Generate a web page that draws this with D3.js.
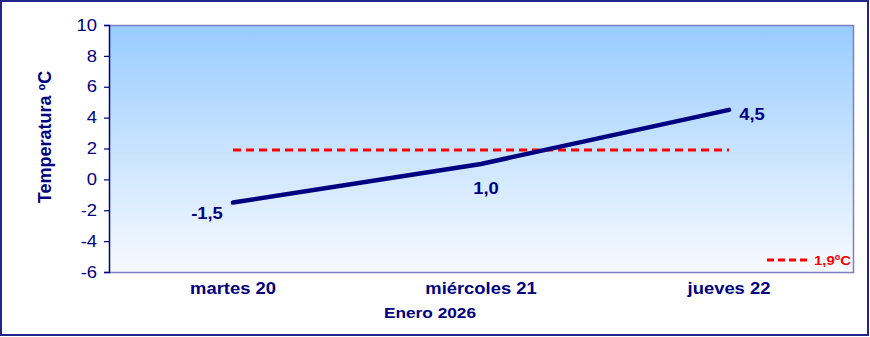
<!DOCTYPE html>
<html>
<head>
<meta charset="utf-8">
<script src="https://cdn.jsdelivr.net/npm/d3@7"></script>
<style>
  html, body { margin: 0; padding: 0; background: #fff; }
  svg { display: block; font-family: Arial, "Liberation Sans", sans-serif; }
</style>
</head>
<body>
<svg id="chart" width="870" height="337"></svg>
<script>
// Daily temperature readings
const days = ["martes 20", "miércoles 21", "jueves 22"];
const temps = [-1.5, 1.0, 4.5];
const labelText = ["-1,5", "1,0", "4,5"];
const meanTemp = 1.9;
const meanLabel = "1,9ºC";
const yTicks = [-6, -4, -2, 0, 2, 4, 6, 8, 10];
const xTitle = "Enero 2026";
const yTitle = "Temperatura ºC";

const svg = d3.select("#chart");
const W = 870, H = 337;
const plot = { left: 109, right: 853, top: 25, bottom: 272 };
const navy = "#000080";
const SX = 1.15; // wide text

// places a text at (px, py) with a slight horizontal widening
function wideText(sel, px, py) {
  return sel.attr("x", 0).attr("y", 0).attr("transform", `translate(${px},${py}) scale(${SX},1)`);
}

// outer frame
svg.append("rect").attr("x", 1).attr("y", 1).attr("width", W - 3).attr("height", H - 3)
  .attr("fill", "#fff").attr("stroke", "#24248f").attr("stroke-width", 2);

const x = d3.scaleBand().domain(days).range([plot.left, plot.right]);
const y = d3.scaleLinear().domain([-6, 10]).range([plot.bottom, plot.top]);

// plot background gradient
const defs = svg.append("defs");
const grad = defs.append("linearGradient").attr("id", "bg").attr("x1", 0).attr("y1", 0).attr("x2", 0).attr("y2", 1);
grad.append("stop").attr("offset", "0%").attr("stop-color", "#99ccff");
grad.append("stop").attr("offset", "100%").attr("stop-color", "#f7faff");

svg.append("rect")
  .attr("x", plot.left).attr("y", plot.top)
  .attr("width", plot.right - plot.left).attr("height", plot.bottom - plot.top)
  .attr("fill", "url(#bg)");

// plot border (top, right, bottom)
svg.append("path")
  .attr("d", `M${plot.left},${plot.top + 0.5}H${plot.right + 0.5}V${plot.bottom + 0.5}H${plot.left}`)
  .attr("fill", "none").attr("stroke", "#7f7fbf").attr("stroke-width", 1.5);

// y axis (plain hyphen for negatives)
const yAxis = svg.append("g").attr("transform", `translate(${plot.left},0)`)
  .call(d3.axisLeft(y).tickValues(yTicks).tickSize(5).tickFormat(d => String(d)));
yAxis.select(".domain").attr("stroke", navy).attr("stroke-width", 1.5);
yAxis.selectAll(".tick line").attr("stroke", navy).attr("stroke-width", 1.2);
yAxis.selectAll(".tick text").attr("fill", navy).attr("font-size", 16)
  .attr("font-family", "Arial, 'Liberation Sans', sans-serif")
  .attr("x", 0).attr("transform", `translate(-12,0) scale(${SX},1)`);

// x axis labels
const xAxis = svg.append("g").attr("transform", `translate(0,${plot.bottom})`)
  .call(d3.axisBottom(x).tickSize(0).tickPadding(11));
xAxis.select(".domain").remove();
xAxis.selectAll(".tick text").attr("fill", navy).attr("font-size", 16).attr("font-weight", "bold")
  .attr("font-family", "Arial, 'Liberation Sans', sans-serif")
  .attr("transform", `scale(${SX},1)`).attr("x", 0);

// axis titles
wideText(svg.append("text"), 430, 318).attr("text-anchor", "middle")
  .attr("fill", navy).attr("font-size", 15).attr("font-weight", "bold").text(xTitle);
svg.append("text").attr("transform", `translate(51,137) rotate(-90)`)
  .attr("text-anchor", "middle").attr("fill", navy).attr("font-size", 18).attr("font-weight", "bold")
  .text(yTitle);

const cx = d => x(d) + x.bandwidth() / 2;

// mean reference line
svg.append("line")
  .attr("x1", cx(days[0])).attr("x2", cx(days[days.length - 1]))
  .attr("y1", y(meanTemp)).attr("y2", y(meanTemp))
  .attr("stroke", "#ff0000").attr("stroke-width", 3).attr("stroke-dasharray", "8,5");

// temperature line
const line = d3.line().x((d, i) => cx(days[i])).y(d => y(d));
svg.append("path").datum(temps).attr("d", line)
  .attr("fill", "none").attr("stroke", navy).attr("stroke-width", 4.5).attr("stroke-linecap", "round");

// value labels
const offsets = [[-26, 11], [5, 24], [23, 4]];
svg.selectAll(".vlabel").data(temps).join("text")
  .attr("class", "vlabel")
  .attr("x", 0).attr("y", 0)
  .attr("transform", (d, i) => `translate(${cx(days[i]) + offsets[i][0]},${y(d) + offsets[i][1]}) scale(${SX},1)`)
  .attr("dy", "0.35em").attr("text-anchor", "middle")
  .attr("fill", navy).attr("font-size", 16).attr("font-weight", "bold")
  .text((d, i) => labelText[i]);

// legend
svg.append("line").attr("x1", 767).attr("x2", 808).attr("y1", 260).attr("y2", 260)
  .attr("stroke", "#ff0000").attr("stroke-width", 3).attr("stroke-dasharray", "7,4");
wideText(svg.append("text"), 814, 260).attr("dy", "0.35em")
  .attr("fill", "#ff0000").attr("font-size", 13).attr("font-weight", "bold").text(meanLabel);
</script>
</body>
</html>
